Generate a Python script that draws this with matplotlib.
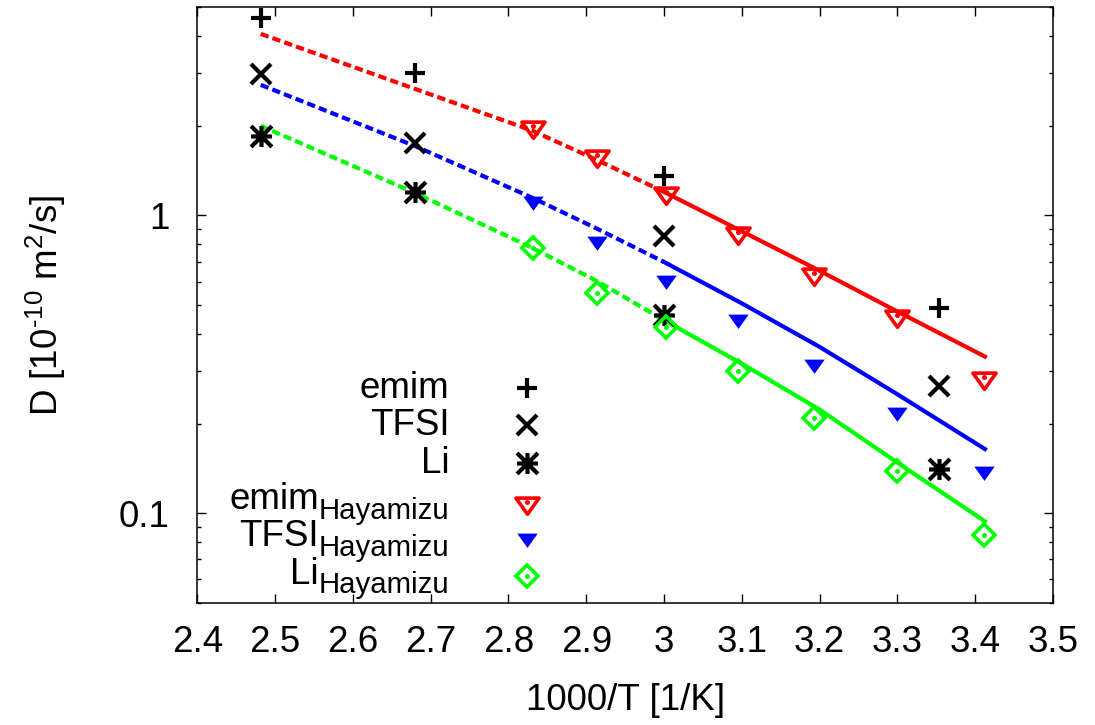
import numpy as np
import matplotlib
matplotlib.use('Agg')
import matplotlib.pyplot as plt
from matplotlib.path import Path
from matplotlib.ticker import FuncFormatter, NullFormatter, LogLocator, MultipleLocator

plt.rcParams['font.family'] = 'Liberation Sans'
plt.rcParams['mathtext.fontset'] = 'custom'
plt.rcParams['mathtext.rm'] = 'Liberation Sans'
plt.rcParams['mathtext.it'] = 'Liberation Sans:italic'

# simulation results, 1000/T in 1/K, D in 1e-10 m^2/s
sim_x = [2.4815, 2.680, 3.0, 3.354]
emim_sim = [4.60, 3.00, 1.36, 0.489]
tfsi_sim = [2.98, 1.75, 0.855, 0.268]
li_sim = [1.85, 1.195, 0.464, 0.141]

# Hayamizu NMR data
hay_x = [2.832, 2.914, 3.002, 3.095, 3.193, 3.299, 3.411]
emim_hay = [1.99, 1.60, 1.20, 0.877, 0.641, 0.464, 0.287]
tfsi_hay = [1.123, 0.829, 0.613, 0.452, 0.320, 0.221, 0.140]
li_hay = [0.777, 0.549, 0.421, 0.301, 0.209, 0.139, 0.0848]

# fitted curves (dashed = extrapolated part, solid = fitted range)
fit_x = [2.4815, 2.68, 2.83, 2.915, 3.0, 3.1, 3.2, 3.3, 3.4125]
emim_fit = [4.07, 2.66, 1.93, 1.53, 1.20, 0.885, 0.652, 0.476, 0.336]
tfsi_fit = [2.746, 1.71, 1.149, 0.90, 0.698, 0.507, 0.362, 0.251, 0.1644]
li_fit = [2.0, 1.19, 0.78, 0.60, 0.445, 0.318, 0.223, 0.148, 0.094]
split = 4

RED, BLUE, GREEN = '#ff0000', '#0000ff', '#00ff00'
FS = 26.5

# gnuplot style markers
star = Path([(-1, 0), (1, 0), (0, -1), (0, 1), (-1, -1), (1, 1), (-1, 1), (1, -1)],
            [Path.MOVETO, Path.LINETO] * 4)
tri = Path([(-1, 0.38), (1, 0.38), (0, -1.02), (-1, 0.38)],
           [Path.MOVETO, Path.LINETO, Path.LINETO, Path.CLOSEPOLY])

sty = {
    'emim': dict(marker='+', ms=15, mew=3.0, color='black', ls='none'),
    'TFSI': dict(marker='x', ms=15, mew=3.0, color='black', ls='none'),
    'Li': dict(marker=star, ms=15, mew=3.0, color='black', ls='none'),
    'emim_h': dict(marker=tri, ms=17, mew=2.6, mec=RED, mfc='none', ls='none'),
    'TFSI_h': dict(marker=tri, ms=15, mew=0, mfc=BLUE, ls='none'),
    'Li_h': dict(marker='D', ms=11.5, mew=2.6, mec=GREEN, mfc='none', ls='none'),
}
dots = {'emim_h': RED, 'Li_h': GREEN}

fig = plt.figure(figsize=(10.95, 7.25), dpi=100)
ax = fig.add_axes([197.3 / 1095, 1 - 603 / 725, 855.7 / 1095, 595.7 / 725])

for fit, c in [(emim_fit, RED), (tfsi_fit, BLUE), (li_fit, GREEN)]:
    ax.plot(fit_x[:split + 1], fit[:split + 1], color=c, lw=3.0, ls=(0, (2, 1)), zorder=2)
    ax.plot(fit_x[split:], fit[split:], color=c, lw=3.0, ls='-', zorder=2)

ax.plot(sim_x, emim_sim, **sty['emim'], zorder=3)
ax.plot(sim_x, tfsi_sim, **sty['TFSI'], zorder=3)
ax.plot(sim_x, li_sim, **sty['Li'], zorder=3)
ax.plot(hay_x, emim_hay, **sty['emim_h'], zorder=3)
ax.plot(hay_x, emim_hay, 'o', color=RED, ms=2.6, zorder=4)
ax.plot(hay_x, tfsi_hay, **sty['TFSI_h'], zorder=3)
ax.plot(hay_x, li_hay, **sty['Li_h'], zorder=3)
ax.plot(hay_x, li_hay, 'o', color=GREEN, ms=2.6, zorder=4)

ax.set_yscale('log')
ax.set_xlim(2.4, 3.5)
ax.set_ylim(0.05, 5)
ax.xaxis.set_major_locator(MultipleLocator(0.1))
ax.xaxis.set_major_formatter(FuncFormatter(lambda v, p: '%g' % round(v, 2)))
ax.yaxis.set_major_locator(LogLocator(base=10))
ax.yaxis.set_minor_locator(LogLocator(base=10, subs=np.arange(2, 10)))
ax.yaxis.set_major_formatter(FuncFormatter(lambda v, p: '%g' % v))
ax.yaxis.set_minor_formatter(NullFormatter())
ax.tick_params(which='both', direction='in', top=True, right=True, width=1.0,
               labelsize=FS)
ax.tick_params(which='major', length=6.5)
ax.tick_params(which='minor', length=3)
ax.tick_params(axis='x', pad=16)
ax.tick_params(axis='y', pad=20)
for s in ax.spines.values():
    s.set_linewidth(1.1)

ax.set_xlabel('1000/T [1/K]', fontsize=FS)
ax.xaxis.set_label_coords(0.5, -0.135)
ax.set_ylabel('D [10$^{\\mathregular{\u201010}}$ m$^{\\mathregular{2}}$/s]', fontsize=FS)
ax.yaxis.set_label_coords(-0.151, 0.5)

# key, drawn by hand: label right-aligned, symbol to the right
tx, mx = 0.2947, 0.385
plain = [('emim', 0.3436, 0.3604), ('TFSI', 0.282, 0.2988), ('Li', 0.2177, 0.2355)]
for name, ty, my in plain:
    ax.text(tx, ty, name, transform=ax.transAxes, ha='right', va='baseline', fontsize=FS)
    ax.plot([mx], [my], transform=ax.transAxes, clip_on=False, **sty[name])

subbed = [('emim', 'emim_h', 0.1418, 0.1701), ('TFSI', 'TFSI_h', 0.0797, 0.1103),
          ('Li', 'Li_h', 0.0168, 0.0458)]
for name, key, ty, my in subbed:
    sub = ax.text(tx, ty, 'Hayamizu', transform=ax.transAxes, ha='right', va='baseline',
                  fontsize=FS * 0.8)
    ax.annotate(name, xy=(0, 0), xycoords=sub, xytext=(0, 5.3),
                textcoords='offset points', ha='right', va='bottom', fontsize=FS)
    ax.plot([mx], [my], transform=ax.transAxes, clip_on=False, **sty[key])
    if key in dots:
        ax.plot([mx], [my], 'o', color=dots[key], ms=2.6, transform=ax.transAxes,
                clip_on=False)

fig.savefig('out.png', dpi=100)
